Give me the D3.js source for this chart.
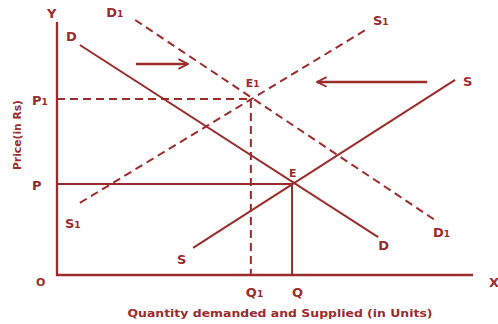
<!DOCTYPE html>
<html><head><meta charset="utf-8">
<script src="https://cdn.jsdelivr.net/npm/d3@7"></script>
<style>body{margin:0;background:#fff}svg{display:block}</style>
</head><body>
<script>
// ---- data (quantity, price) in chart units ----
const demandD  = [[5.5, 90.9], [77.2, 15.0]];
const demandD1 = [[18.8, 100.8], [91.6, 20.9]];
const supplyS  = [[32.7, 10.7], [95.7, 77.1]];
const supplyS1 = [[5.5, 28.5], [74.5, 97.2]];
const equilE  = [56.5, 36.0];
const equilE1 = [46.6, 69.6];
const priceTicks = ["P", "P1"];
const qtyTicks = ["Q", "Q1"];
const shiftArrows = [[[19, 83.4], [31.5, 83.4]], [[89, 76.3], [62.5, 76.3]]];

const W = 498, H = 324, color = "#9a2c2c";
const x = d3.scaleLinear().domain([0, 100]).range([57, 473]);
const y = d3.scaleLinear().domain([0, 100]).range([275, 22]);

const svg = d3.select("body").append("svg").attr("width", W).attr("height", H);
svg.append("defs").append("marker").attr("id", "ah")
  .attr("viewBox", "0 0 10 10").attr("refX", 9).attr("refY", 5)
  .attr("markerWidth", 5).attr("markerHeight", 5).attr("orient", "auto")
  .append("path").attr("d", "M1,1 L9,5 L1,9").attr("fill", "none")
  .attr("stroke", color).attr("stroke-width", 1.6);

const line = d3.line().x(d => x(d[0])).y(d => y(d[1]));
const g = svg.append("g").attr("stroke", color).attr("fill", "none").attr("stroke-width", 2);

// axes
g.append("path").attr("d", line([[0, 100], [0, 0], [100, 0]])).attr("stroke-width", 2.3);

// guide lines
g.append("path").attr("d", line([[0, equilE1[1]], equilE1, [equilE1[0], 0]])).attr("stroke-dasharray", "8,5");
g.append("path").attr("d", line([[0, equilE[1]], equilE, [equilE[0], 0]]));

// curves
g.append("path").attr("d", line(demandD));
g.append("path").attr("d", line(supplyS));
g.append("path").attr("d", line(demandD1)).attr("stroke-dasharray", "8,5");
g.append("path").attr("d", line(supplyS1)).attr("stroke-dasharray", "8,5");

// arrows
shiftArrows.forEach(a => g.append("path").attr("d", line(a)).attr("stroke-width", 2.4).attr("marker-end", "url(#ah)"));

// labels
const T = svg.append("g").attr("fill", color).attr("font-family", "'DejaVu Sans', Verdana, sans-serif")
  .attr("font-weight", "bold").attr("font-size", 13);
function lab(txt, px, py, anchor) {
  const t = T.append("text").attr("x", px).attr("y", py).attr("text-anchor", anchor || "start");
  const m = txt.match(/^(\D+)(\d*)$/);
  t.append("tspan").text(m[1]);
  if (m[2]) t.append("tspan").attr("font-size", 9).text(m[2]);
  return t;
}
lab("Y", 47, 18);
lab("X", 489, 287);
lab("O", 36, 286).attr("font-size", 11);
lab(priceTicks[0], 32, y(equilE[1]) + 6);
lab(priceTicks[1], 32, y(equilE1[1]) + 6);
lab(qtyTicks[1], x(equilE1[0]) - 5, 297);
lab(qtyTicks[0], x(equilE[0]) + 0, 297);
lab("D", x(demandD[0][0]) - 14, y(demandD[0][1]) - 4);
lab("D", x(demandD[1][0]) + 0, y(demandD[1][1]) + 13);
lab("D1", x(demandD1[0][0]) - 29, y(demandD1[0][1]) - 3);
lab("D1", x(demandD1[1][0]) - 5, y(demandD1[1][1]) + 15);
lab("S", x(supplyS[0][0]) - 16, y(supplyS[0][1]) + 16);
lab("S", x(supplyS[1][0]) + 8, y(supplyS[1][1]) + 6);
lab("S1", x(supplyS1[0][0]) - 15, y(supplyS1[0][1]) + 25);
lab("S1", x(supplyS1[1][0]) + 6, y(supplyS1[1][1]) - 4);
lab("E", x(equilE[0]) - 3, y(equilE[1]) - 7).attr("font-size", 11);
lab("E1", x(equilE1[0]) - 5, y(equilE1[1]) - 12).attr("font-size", 11);

T.append("text").attr("x", 280).attr("y", 317).attr("text-anchor", "middle").attr("font-size", 11)
  .attr("textLength", 305).attr("lengthAdjust", "spacingAndGlyphs")
  .text("Quantity demanded and Supplied (in Units)");
T.append("text").attr("transform", "translate(21,135) rotate(-90)").attr("text-anchor", "middle")
  .attr("font-size", 10).attr("textLength", 70).attr("lengthAdjust", "spacingAndGlyphs")
  .text("Price(in Rs)");
</script>
</body></html>
